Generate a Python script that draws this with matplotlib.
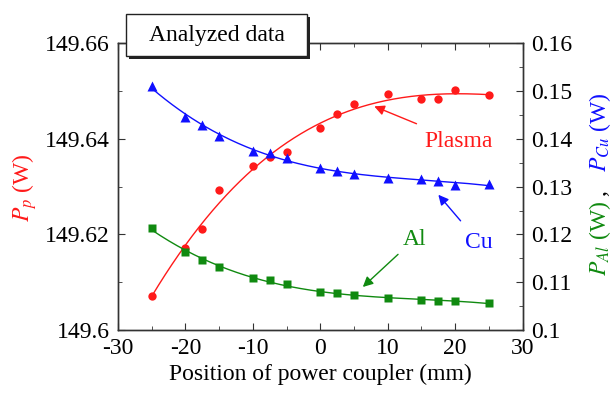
import numpy as np
import matplotlib
matplotlib.use("Agg")
import matplotlib.pyplot as plt
from matplotlib.ticker import MultipleLocator, FuncFormatter
from matplotlib.patches import Rectangle

plt.rcParams['font.family'] = ['Liberation Serif', 'DejaVu Serif']
plt.rcParams['mathtext.fontset'] = 'stix'
plt.rcParams['axes.unicode_minus'] = False

# ---- data ----
position = [-25, -20, -17.5, -15, -10, -7.5, -5, 0, 2.5, 5, 10, 15, 17.5, 20, 25]
plasma = [149.6071, 149.6172, 149.6212, 149.6292, 149.6343, 149.6363, 149.6373,
          149.6423, 149.6452, 149.6473, 149.6493, 149.6483, 149.6483, 149.6503, 149.6492]
cu = [0.1511, 0.1446, 0.1428, 0.1407, 0.1375, 0.1370, 0.1359,
      0.1340, 0.1332, 0.1327, 0.1318, 0.1315, 0.1311, 0.1303, 0.1306]
al = [0.1213, 0.1164, 0.1147, 0.1131, 0.1109, 0.1104, 0.1096,
      0.1080, 0.1077, 0.1073, 0.1066, 0.1063, 0.1061, 0.1060, 0.1057]

xticks = [-30, -20, -10, 0, 10, 20, 30]
left_ticks = [149.6, 149.62, 149.64, 149.66]
right_ticks = [0.1, 0.11, 0.12, 0.13, 0.14, 0.15, 0.16]

RED = '#ff1a1a'
BLUE = '#1010ff'
GREEN = '#108a10'
SPINE = '#333333'
FS = 17

fig = plt.figure(figsize=(6.12, 3.96), dpi=100)
ax = fig.add_axes([0.1928, 0.1667, 0.8540 - 0.1928, 0.8907 - 0.1667])
ax2 = ax.twinx()

x = np.array(position)
xf = np.linspace(min(position), max(position), 200)

def fit(y, deg=3):
    p = np.polyfit(x, np.array(y), deg)
    return np.polyval(p, xf)

ax.plot(xf, fit(plasma, 3), color=RED, lw=1.0)
ax.plot(x, plasma, 'o', color=RED, ms=6, mec='none')
ax2.plot(xf, fit(cu, 3), color=BLUE, lw=1.0)
ax2.plot(x, cu, '^', color=BLUE, ms=7, mec='none')
ax2.plot(xf, fit(al, 3), color=GREEN, lw=1.0)
ax2.plot(x, al, 's', color=GREEN, ms=5.5, mec='none')

ax.set_xlim(-30, 30)
ax.set_ylim(149.6, 149.66)
ax2.set_ylim(0.1, 0.16)
ax.set_xticks(xticks)
ax.xaxis.set_minor_locator(MultipleLocator(5))
ax.set_yticks(left_ticks)
ax.yaxis.set_minor_locator(MultipleLocator(0.01))
ax2.set_yticks(right_ticks)
ax2.yaxis.set_minor_locator(MultipleLocator(0.005))
fmt = FuncFormatter(lambda v, p: '%g' % round(v, 4))
ax.yaxis.set_major_formatter(fmt)
ax2.yaxis.set_major_formatter(fmt)
ax.xaxis.set_major_formatter(FuncFormatter(lambda v, p: '%d' % v))

ax.tick_params(axis='x', which='both', direction='in', top=True, labelsize=FS, pad=6, color=SPINE)
ax.tick_params(axis='y', which='both', direction='in', labelsize=FS, pad=6, color=SPINE)
ax.tick_params(which='major', length=5)
ax.tick_params(which='minor', length=3)
ax2.tick_params(axis='y', which='both', direction='in', labelsize=FS, pad=6, color=SPINE)
ax2.tick_params(which='major', length=5)
ax2.tick_params(which='minor', length=3)
for a in (ax, ax2):
    for s in a.spines.values():
        s.set_color(SPINE)
        s.set_linewidth(1.0)

ax.set_xlabel('Position of power coupler (mm)', fontsize=FS, labelpad=3)

# left ylabel
fig.text(25 / 612, 1 - 188 / 396, '$P_p$ (W)', color=RED, fontsize=FS,
         rotation=90, ha='center', va='center')
# right ylabel in two colours
fig.text(600 / 612, 1 - 238 / 396, '$P_{Al}$ (W)', color=GREEN, fontsize=FS,
         rotation=90, ha='center', va='center')
fig.text(600 / 612, 1 - 193 / 396, ',', color='black', fontsize=FS,
         rotation=90, ha='center', va='center')
fig.text(600 / 612, 1 - 132 / 396, '$P_{Cu}$ (W)', color=BLUE, fontsize=FS,
         rotation=90, ha='center', va='center')

# annotations
ax.annotate('Plasma', xy=(8, 149.6468), xytext=(15.5, 149.6395), color=RED,
            fontsize=FS, ha='left', va='center',
            arrowprops=dict(arrowstyle='-|>', color=RED, lw=1.0,
                            shrinkA=8, shrinkB=0, mutation_scale=15))
ax2.annotate('Cu', xy=(17.5, 0.1283), xytext=(21.5, 0.1183), color=BLUE,
             fontsize=FS, ha='left', va='center',
             arrowprops=dict(arrowstyle='-|>', color=BLUE, lw=1.0,
                             shrinkA=8, shrinkB=0, mutation_scale=15))
ax2.annotate('Al', xy=(6.3, 0.1090), xytext=(12.2, 0.1190), color=GREEN,
             fontsize=FS, ha='left', va='center',
             arrowprops=dict(arrowstyle='-|>', color=GREEN, lw=1.0,
                             shrinkA=2, shrinkB=0, mutation_scale=15))

# "Analyzed data" box with shadow
W, H = 612, 396
bx0, bx1, by0, by1 = 126, 307, 14, 56
fig.patches.append(Rectangle(((bx0 + 3) / W, 1 - (by1 + 3) / H), (bx1 - bx0) / W,
                             (by1 - by0) / H, transform=fig.transFigure,
                             facecolor='#222222', edgecolor='none', zorder=10))
fig.patches.append(Rectangle((bx0 / W, 1 - by1 / H), (bx1 - bx0) / W,
                             (by1 - by0) / H, transform=fig.transFigure,
                             facecolor='white', edgecolor='#222222', lw=1.0, zorder=11))
fig.text((bx0 + bx1) / 2 / W, 1 - 36 / H, 'Analyzed data', fontsize=FS,
         ha='center', va='center', zorder=12)

fig.savefig('out.png', dpi=100)
